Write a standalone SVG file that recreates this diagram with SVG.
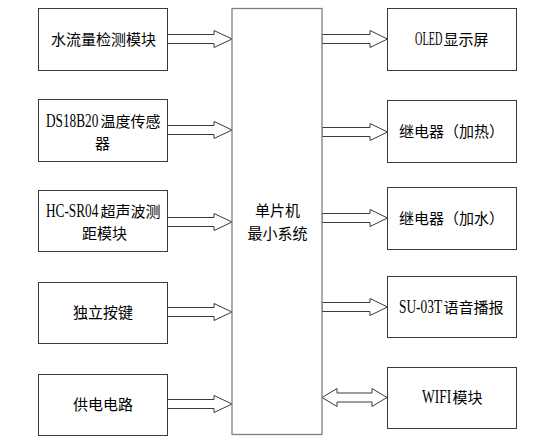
<svg xmlns="http://www.w3.org/2000/svg" width="533" height="440" viewBox="0 0 533 440">
<style>
.box{fill:#fff;stroke:#3a3a3a;stroke-width:1}
.mcu{fill:#fff;stroke:#808080;stroke-width:1.3}
.arr{fill:#fff;stroke:#3a3a3a;stroke-width:1;stroke-linejoin:miter}
.zh{font-family:"Noto Sans CJK SC","Noto Sans",sans-serif;font-size:15px;fill:#000}
.la{font-family:"Liberation Serif",serif;font-size:19px;fill:#000}
.c{text-anchor:middle}
</style>
<rect width="533" height="440" fill="#fff"/>
<g id="connectors">
<polygon class="arr" points="167.5,34.5 214,34.5 214,30.5 232,39 214,47.5 214,43.5 167.5,43.5"/>
<polygon class="arr" points="167.5,125.5 214,125.5 214,121.5 232,130 214,138.5 214,134.5 167.5,134.5"/>
<polygon class="arr" points="167.5,217.5 214,217.5 214,213.5 232,222 214,230.5 214,226.5 167.5,226.5"/>
<polygon class="arr" points="167.5,307.5 214,307.5 214,303.5 232,312 214,320.5 214,316.5 167.5,316.5"/>
<polygon class="arr" points="167.5,399.5 214,399.5 214,395.5 232,404 214,412.5 214,408.5 167.5,408.5"/>
<polygon class="arr" points="322,34.5 370,34.5 370,30.5 387.5,39 370,47.5 370,43.5 322,43.5"/>
<polygon class="arr" points="322,127.5 370,127.5 370,123.5 387.5,132 370,140.5 370,136.5 322,136.5"/>
<polygon class="arr" points="322,213.5 370,213.5 370,209.5 387.5,218 370,226.5 370,222.5 322,222.5"/>
<polygon class="arr" points="322,302.5 370,302.5 370,298.5 387.5,307 370,315.5 370,311.5 322,311.5"/>
<polygon class="arr" points="322,397.5 337,388.5 337,393 372,393 372,388.5 387,397.5 372,406.5 372,402 337,402 337,406.5"/>
</g>
<g id="mcu">
<rect class="mcu" x="232" y="8.5" width="90" height="426"/>
<text class="zh c" x="277.5" y="216">单片机</text>
<text class="zh c" x="277.5" y="239">最小系统</text>
</g>
<g id="flow">
<rect class="box" x="38.5" y="8.5" width="129" height="62"/>
<text class="zh" x="51" y="44.5">水流量检测模块</text>
</g>
<g id="ds18b20">
<rect class="box" x="38.5" y="99.5" width="129" height="62"/>
<text class="la" transform="translate(46 127) scale(0.7 1)">DS18B20</text>
<text class="zh" x="100.5" y="126.5">温度传感</text>
<text class="zh" x="95" y="148.5">器</text>
</g>
<g id="hcsr04">
<rect class="box" x="38.5" y="190.5" width="129" height="61"/>
<text class="la" transform="translate(46 217) scale(0.7 1)">HC-SR04</text>
<text class="zh" x="100.5" y="216.5">超声波测</text>
<text class="zh" x="82" y="238.5">距模块</text>
</g>
<g id="keys">
<rect class="box" x="38.5" y="282.5" width="129" height="61"/>
<text class="zh" x="73" y="317.5">独立按键</text>
</g>
<g id="power">
<rect class="box" x="38.5" y="374.5" width="129" height="61"/>
<text class="zh" x="73" y="409.5">供电电路</text>
</g>
<g id="oled">
<rect class="box" x="387.5" y="8.5" width="129" height="62"/>
<text class="la" transform="translate(415 45) scale(0.54 1)">OLED</text>
<text class="zh" x="443.5" y="44.5">显示屏</text>
</g>
<g id="relay-heat">
<rect class="box" x="387.5" y="100.5" width="129" height="62"/>
<text class="zh" x="399" y="136.5">继电器（加热）</text>
</g>
<g id="relay-water">
<rect class="box" x="387.5" y="187.5" width="129" height="62"/>
<text class="zh" x="399" y="223.5">继电器（加水）</text>
</g>
<g id="su03t">
<rect class="box" x="387.5" y="276.5" width="129" height="61"/>
<text class="la" transform="translate(399 313) scale(0.705 1)">SU-03T</text>
<text class="zh" x="443.5" y="312.5">语音播报</text>
</g>
<g id="wifi">
<rect class="box" x="387.5" y="367.5" width="129" height="61"/>
<text class="la" transform="translate(422 403) scale(0.71 1)">WIFI</text>
<text class="zh" x="452.5" y="402.5">模块</text>
</g>
</svg>
